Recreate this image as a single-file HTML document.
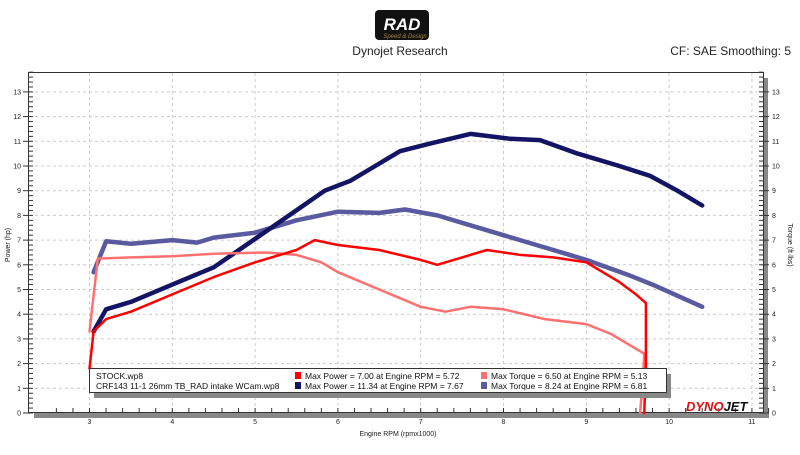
<!DOCTYPE html>
<html><head><meta charset="utf-8"><style>
body{margin:0;background:#fff;font-family:"Liberation Sans",sans-serif}
svg text{font-family:"Liberation Sans",sans-serif}
</style></head><body>
<svg width="800" height="450" viewBox="0 0 800 450" xmlns="http://www.w3.org/2000/svg">
<g>
<rect x="375" y="10" width="54" height="30" rx="4" fill="#111"/>
<text x="402" y="30" text-anchor="middle" font-size="17" font-weight="bold" font-style="italic" fill="#fff">RAD</text>
<text x="405" y="38" text-anchor="middle" font-size="6" font-style="italic" fill="#a08040">Speed &amp; Design</text>
</g>
<text x="400" y="55" text-anchor="middle" font-size="12" fill="#222">Dynojet Research</text>
<text x="791" y="55" text-anchor="end" font-size="12" fill="#222">CF: SAE Smoothing: 5</text>
<rect x="34" y="413" width="735" height="5" fill="#888"/>
<rect x="763" y="78" width="5" height="340" fill="#888"/>
<g id="grid"></g>
<rect x="28.5" y="72.5" width="735" height="340" fill="none" stroke="#333" stroke-width="1"/>
<g id="ticks"></g>
<g id="series"></g>
<text transform="translate(10,245) rotate(-90)" text-anchor="middle" font-size="7" fill="#222">Power (hp)</text>
<text transform="translate(788,245) rotate(90)" text-anchor="middle" font-size="7" fill="#222">Torque (ft·lbs)</text>
<text x="398" y="436" text-anchor="middle" font-size="7" fill="#222">Engine RPM (rpmx1000)</text>
<g>
<rect x="94" y="374" width="577" height="24" fill="#888"/>
<rect x="89.5" y="368.5" width="577" height="24" fill="#fff" stroke="#333"/>
<text x="96" y="379" font-size="8.5" fill="#111">STOCK.wp8</text>
<text x="96" y="389" font-size="8.5" fill="#111">CRF143 11-1 26mm TB_RAD intake WCam.wp8</text>
<rect x="295" y="372" width="6" height="7" fill="#ff0000"/>
<text x="305" y="379" font-size="8.5" fill="#111">Max Power = 7.00 at Engine RPM = 5.72</text>
<rect x="481" y="372" width="6" height="7" fill="#ff7070"/>
<text x="491" y="379" font-size="8.5" fill="#111">Max Torque = 6.50 at Engine RPM = 5.13</text>
<rect x="295" y="382" width="6" height="7" fill="#141464"/>
<text x="305" y="389" font-size="8.5" fill="#111">Max Power = 11.34 at Engine RPM = 7.67</text>
<rect x="481" y="382" width="6" height="7" fill="#5a5aa0"/>
<text x="491" y="389" font-size="8.5" fill="#111">Max Torque = 8.24 at Engine RPM = 6.81</text>
</g>
<g>
<text x="686" y="411" font-size="13" font-weight="bold" font-style="italic" fill="#e01010">DYNO<tspan fill="#111">JET</tspan></text>
</g>
</svg>
<script>
const xTicks=[3,4,5,6,7,8,9,10,11];
const yTicks=[0,1,2,3,4,5,6,7,8,9,10,11,12,13];
const stockPowerRpm=[3.0,3.05,3.2,3.5,4.0,4.5,5.0,5.5,5.72,6.0,6.5,7.0,7.2,7.5,7.8,8.2,8.6,9.0,9.4,9.6,9.72,9.72,9.7];
const stockPower=[1.8,3.3,3.8,4.1,4.8,5.5,6.1,6.6,7.0,6.8,6.6,6.2,6.0,6.3,6.6,6.4,6.3,6.1,5.3,4.8,4.45,2.0,0];
const stockTorqueRpm=[3.0,3.1,3.5,4.0,4.5,5.13,5.5,5.8,6.0,6.5,7.0,7.3,7.6,8.0,8.5,9.0,9.3,9.6,9.7,9.68,9.65];
const stockTorque=[3.3,6.25,6.3,6.35,6.45,6.5,6.4,6.1,5.7,5.0,4.3,4.1,4.3,4.2,3.8,3.6,3.2,2.6,2.4,1.2,0];
const camPowerRpm=[3.05,3.2,3.5,4.0,4.5,5.0,5.54,5.84,6.15,6.45,6.75,7.1,7.6,8.08,8.44,8.9,9.4,9.77,10.1,10.4];
const camPower=[3.3,4.2,4.5,5.2,5.9,7.05,8.3,9.0,9.4,10.0,10.6,10.9,11.3,11.1,11.05,10.5,10.0,9.6,9.0,8.4];
const camTorqueRpm=[3.05,3.2,3.5,4.0,4.3,4.5,5.0,5.5,6.0,6.5,6.81,7.2,7.6,8.0,8.5,9.0,9.5,9.8,10.2,10.4];
const camTorque=[5.7,6.95,6.85,7.0,6.9,7.1,7.3,7.8,8.15,8.1,8.24,8.0,7.6,7.2,6.7,6.2,5.6,5.2,4.6,4.3];
const NS='http://www.w3.org/2000/svg';
const X=r=>89.5+(r-3)*82.8;
const Y=v=>413-v*24.7;
function mk(t,a,p){const e=document.createElementNS(NS,t);for(const k in a)e.setAttribute(k,a[k]);p.appendChild(e);return e;}
const grid=document.getElementById('grid'),ticks=document.getElementById('ticks'),series=document.getElementById('series');
xTicks.forEach(t=>{const x=X(t);
 const g=mk('line',{x1:x,x2:x,y1:73,y2:413,stroke:'#ccc','stroke-dasharray':'3,3'},grid);
 
 const l=mk('text',{x:x,y:424,'text-anchor':'middle','font-size':'7',fill:'#222'},ticks);l.textContent=t;
 });
for(let r=2.6;r<=11.2;r+=0.2){const x=X(r);mk('line',{x1:x,x2:x,y1:413,y2:408,stroke:'#333'},ticks);}
yTicks.forEach(t=>{const y=Y(t);
 if(t>0){const g=mk('line',{x1:29,x2:763,y1:y,y2:y,stroke:'#ccc','stroke-dasharray':'3,3'},grid);
 }
 const l=mk('text',{x:21,y:y+2.5,'text-anchor':'end','font-size':'7',fill:'#222'},ticks);l.textContent=t;
 
 const r=mk('text',{x:772,y:y+2.5,'font-size':'7',fill:'#222'},ticks);r.textContent=t;
 
 mk('line',{x1:23,x2:29,y1:y,y2:y,stroke:'#333'},ticks);mk('line',{x1:763,x2:769,y1:y,y2:y,stroke:'#333'},ticks);});
for(let v=0;v<=13.8;v+=0.2){const y=Y(v);mk('line',{x1:29,x2:33,y1:y,y2:y,stroke:'#333'},ticks);mk('line',{x1:759,x2:763,y1:y,y2:y,stroke:'#333'},ticks);}
function line(xs,ys,color,w,name){const d=xs.map((r,i)=>(i?'L':'M')+X(r).toFixed(1)+','+Y(ys[i]).toFixed(1)).join('');
 const p=mk('path',{d:d,fill:'none',stroke:color,'stroke-width':w,'stroke-linejoin':'round','stroke-linecap':'round'},series);
 }
line(camTorqueRpm,camTorque,'#5a5aa0',4.5,'cam-torque-line');
line(camPowerRpm,camPower,'#141464',4.5,'cam-power-line');
line(stockTorqueRpm,stockTorque,'#ff7070',2.5,'stock-torque-line');
line(stockPowerRpm,stockPower,'#ff0000',2.5,'stock-power-line');
</script>
</body></html>
